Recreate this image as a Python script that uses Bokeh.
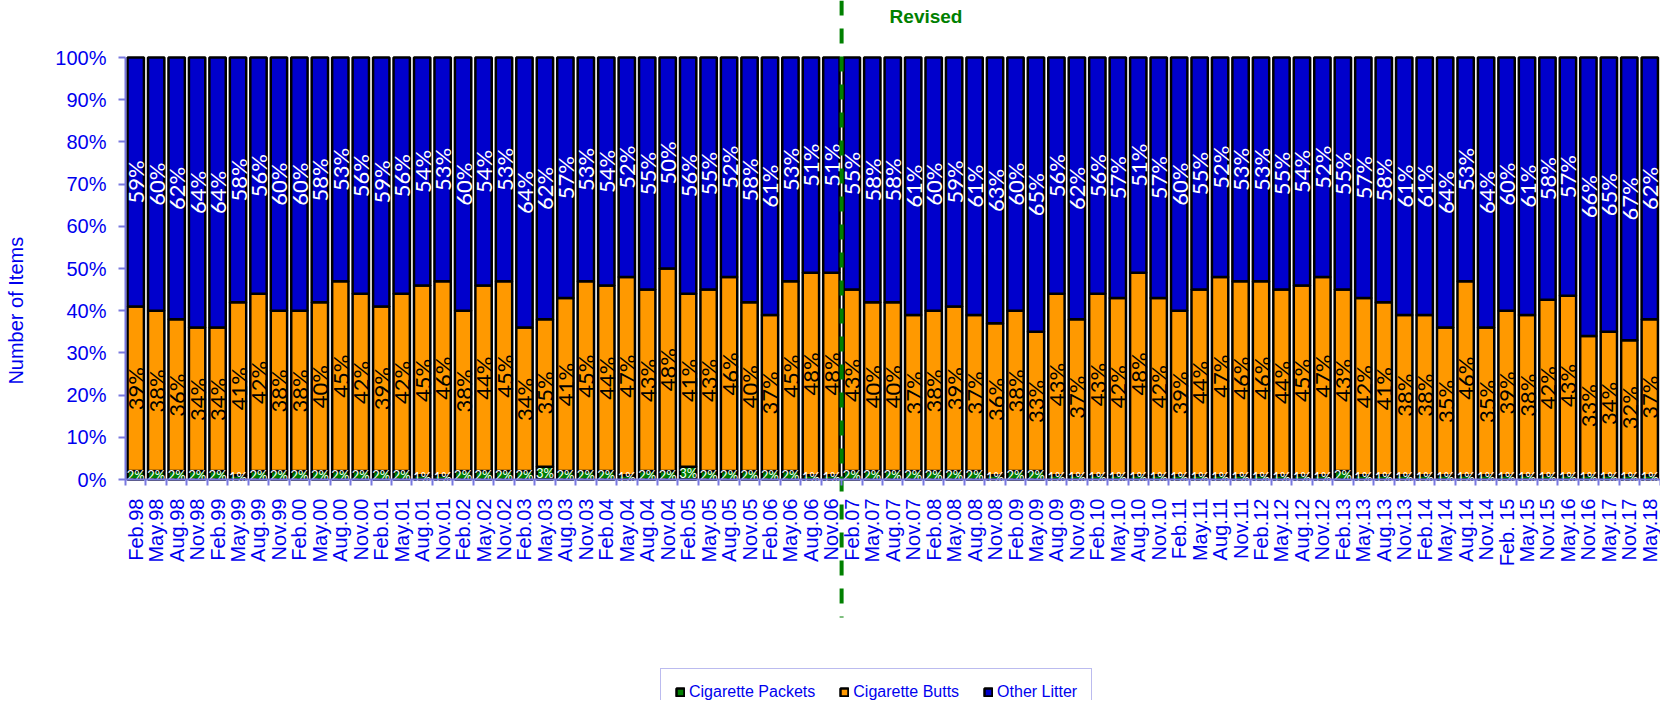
import math
from bokeh.plotting import figure
from bokeh.models import (ColumnDataSource, FixedTicker, Range1d, Legend,
                          LegendItem, Label)
from bokeh.core.properties import value
from bokeh.embed import file_html
from bokeh.resources import INLINE

periods = ["Feb.98", "May.98", "Aug.98", "Nov.98", "Feb.99", "May.99", "Aug.99", "Nov.99",
           "Feb.00", "May.00", "Aug.00", "Nov.00", "Feb.01", "May.01", "Aug.01", "Nov.01",
           "Feb.02", "May.02", "Nov.02", "Feb.03", "May.03", "Aug.03", "Nov.03",
           "Feb.04", "May.04", "Aug.04", "Nov.04", "Feb.05", "May.05", "Aug.05", "Nov.05",
           "Feb.06", "May.06", "Aug.06", "Nov.06", "Feb.07", "May.07", "Aug.07", "Nov.07",
           "Feb.08", "May.08", "Aug.08", "Nov.08", "Feb.09", "May.09", "Aug.09", "Nov.09",
           "Feb.10", "May.10", "Aug.10", "Nov.10", "Feb.11", "May.11", "Aug.11", "Nov.11",
           "Feb.12", "May.12", "Aug.12", "Nov.12", "Feb.13", "May.13", "Aug.13", "Nov.13",
           "Feb.14", "May.14", "Aug.14", "Nov.14", "Feb. 15", "May.15", "Nov.15",
           "May.16", "Nov.16", "May.17", "Nov.17", "May.18"]

packets = [2, 2, 2, 2, 2, 1, 2, 2, 2, 2, 2, 2, 2, 2, 1, 1, 2, 2, 2, 2, 3, 2, 2, 2, 1,
           2, 2, 3, 2, 2, 2, 2, 2, 1, 1,
           2, 2, 2, 2, 2, 2, 2, 1, 2, 2, 1, 1,
           1, 1, 1, 1, 1, 1, 1, 1, 1, 1, 1, 1,
           2,
           1, 1, 1, 1, 1, 1, 1, 1, 1, 1, 1, 1, 1, 1, 1]

butts = [39, 38, 36, 34, 34, 41, 42, 38, 38, 40, 45, 42, 39, 42, 45, 46, 38, 44, 45, 34,
         35, 41, 45, 44, 47, 43, 48, 41, 43, 46, 40, 37, 45, 48, 48,
         43, 40, 40, 37, 38, 39, 37, 36, 38, 33, 43, 37, 43, 42, 48, 42, 39, 44, 47, 46,
         46, 44, 45, 47, 43, 42, 41, 38, 38, 35, 46, 35, 39, 38, 42, 43, 33, 34, 32, 37]

other = [59, 60, 62, 64, 64, 58, 56, 60, 60, 58, 53, 56, 59, 56, 54, 53, 60, 54, 53, 64,
         62, 57, 53, 54, 52, 55, 50, 56, 55, 52, 58, 61, 53, 51, 51,
         55, 58, 58, 61, 60, 59, 61, 63, 60, 65, 56, 62, 56, 57, 51, 57, 60, 55, 52, 53,
         53, 55, 54, 52, 55, 57, 58, 61, 61, 64, 53, 64, 60, 61, 58, 57, 66, 65, 67, 62]

series_names = ["Cigarette Packets", "Cigarette Butts", "Other Litter"]
revision_start = "Feb.07"

# ---- styling ----
C_PACK = "#008000"
C_BUTT = "#FF9900"
C_OTHER = "#0000CC"
BLUE_TXT = "#0000EE"
AXIS_C = "#7878E0"
FONT = "Liberation Sans"

n = len(periods)
xs = list(range(n))
tot = [p + b + o for p, b, o in zip(packets, butts, other)]
pk = [100.0 * p / t for p, t in zip(packets, tot)]
bt = [100.0 * b / t for b, t in zip(butts, tot)]
ot = [100.0 * o / t for o, t in zip(other, tot)]

src = ColumnDataSource(dict(
    x=xs, pk=pk, bt=bt, ot=ot,
    pk_mid=[a / 2 for a in pk],
    bt_mid=[a + b / 2 for a, b in zip(pk, bt)],
    ot_mid=[a + b + c / 2 for a, b, c in zip(pk, bt, ot)],
    pk_lbl=[f"{v}%" for v in packets],
    bt_lbl=[f"{v}%" for v in butts],
    ot_lbl=[f"{v}%" for v in other],
))

W, H = 1660, 700
slot = 20.46
px_per_pct = 4.22
x0 = -0.5 - 125 / slot
y_top = 100 + 57 / px_per_pct
y_bot = y_top - H / px_per_pct

p = figure(width=W, height=H, output_backend="svg", toolbar_location=None,
           x_range=Range1d(x0, x0 + W / slot), y_range=Range1d(y_bot, y_top),
           min_border=0, min_border_left=0, min_border_right=0,
           min_border_top=0, min_border_bottom=0, outline_line_color=None)
p.xgrid.visible = False
p.ygrid.visible = False

rs = p.vbar_stack(["pk", "bt", "ot"], x="x", width=0.8, source=src,
                  fill_color=[C_PACK, C_BUTT, C_OTHER], line_color="black",
                  line_width=2.5)

# data labels
p.text(x="x", y="ot_mid", text="ot_lbl", source=src, angle=math.pi / 2,
       text_align="center", text_baseline="middle", text_color="white",
       text_font=value("Lato"), text_font_size="22px")
p.text(x="x", y="bt_mid", text="bt_lbl", source=src, angle=math.pi / 2,
       text_align="center", text_baseline="middle", text_color="black",
       text_font=value("Lato"), text_font_size="22px")
p.text(x="x", y="pk_mid", text="pk_lbl", source=src,
       text_align="center", text_baseline="middle", text_color="white",
       text_font=value("Lato"), text_font_size="13px")

# revision divider
rev_x = periods.index(revision_start) - 0.5
p.segment(x0=[rev_x], y0=[y_top], x1=[rev_x], y1=[-32.7],
          line_color="#008000", line_width=4, line_dash="15 13")
p.add_layout(Label(x=rev_x, y=109.7, x_offset=48, text="Revised",
                   text_align="left", text_baseline="middle",
                   text_color="#008000", text_font_style="bold",
                   text_font=FONT, text_font_size="19px"))

# y axis
ya = p.yaxis[0]
ya.fixed_location = -0.5
ya.bounds = (0, 100)
ya.ticker = FixedTicker(ticks=list(range(0, 101, 10)))
ya.major_label_overrides = {v: f"{v}%" for v in range(0, 101, 10)}
ya.axis_line_color = AXIS_C
ya.axis_line_width = 2
ya.major_tick_line_color = AXIS_C
ya.major_tick_line_width = 2
ya.major_tick_in = 0
ya.major_tick_out = 7
ya.minor_tick_line_color = None
ya.major_label_standoff = 12
ya.major_label_text_color = BLUE_TXT
ya.major_label_text_font = FONT
ya.major_label_text_font_size = "20px"

p.add_layout(Label(x=15, x_units="screen", y=40, text="Number of Items",
                   angle=math.pi / 2, text_align="center", text_baseline="middle",
                   text_color=BLUE_TXT, text_font=FONT, text_font_size="20px"))

# x axis
xa = p.xaxis[0]
xa.fixed_location = 0
xa.bounds = (-0.5, n - 0.5)
xa.ticker = FixedTicker(ticks=xs, minor_ticks=[i - 0.5 for i in range(n + 1)])
xa.major_label_overrides = {i: lab for i, lab in enumerate(periods)}
xa.major_label_orientation = math.pi / 2
xa.axis_line_color = AXIS_C
xa.axis_line_width = 2
xa.major_tick_line_color = None
xa.major_tick_in = 0
xa.major_tick_out = 0
xa.minor_tick_line_color = AXIS_C
xa.minor_tick_line_width = 2
xa.minor_tick_in = 0
xa.minor_tick_out = 6
xa.major_label_standoff = 13
xa.major_label_text_color = BLUE_TXT
xa.major_label_text_font = FONT
xa.major_label_text_font_size = "20px"

legend = Legend(items=[LegendItem(label=nm, renderers=[r])
                       for nm, r in zip(series_names, rs)],
                orientation="horizontal", location=(660, -16),
                glyph_width=10, glyph_height=10, label_standoff=4, spacing=24,
                padding=14, margin=0,
                label_text_color=BLUE_TXT, label_text_font=FONT,
                label_text_font_size="16px",
                border_line_color=AXIS_C, border_line_width=1.5,
                background_fill_color="white", background_fill_alpha=1)
p.add_layout(legend)

open("out.html", "w").write(file_html(p, INLINE))
